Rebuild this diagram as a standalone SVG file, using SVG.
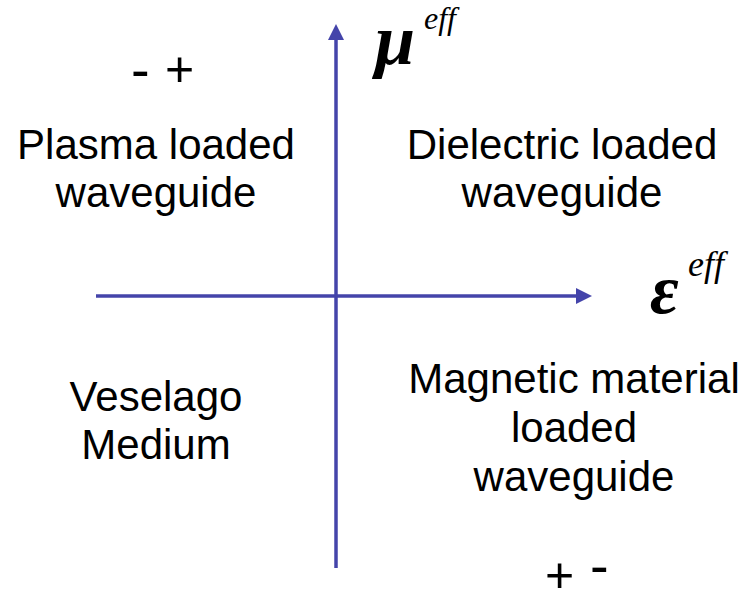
<svg xmlns="http://www.w3.org/2000/svg" width="747" height="590" viewBox="0 0 747 590">
<style>
.lbl{font-family:"Liberation Sans",Arial,sans-serif;font-size:42px;fill:#000;text-anchor:middle}
.sym{font-family:"Liberation Serif","Times New Roman",serif;font-style:italic;font-weight:bold;fill:#000}
.sup{font-family:"Liberation Serif","Times New Roman",serif;font-style:italic;fill:#000}
.sign{font-family:"Liberation Sans",Arial,sans-serif;fill:#000}
.axis{stroke:#4444AA;stroke-width:3.5;fill:none}
</style>
<defs>
<marker id="ah" markerUnits="userSpaceOnUse" markerWidth="16" markerHeight="16" refX="0" refY="8" orient="auto" viewBox="0 0 16 16">
<path d="M0,0 L16,8 L0,16 Z" fill="#4444AA"/>
</marker>
</defs>
<g id="connectors">
<line class="axis" x1="96" y1="296" x2="576" y2="296" marker-end="url(#ah)"/>
<line class="axis" x1="336" y1="568" x2="336" y2="40" marker-end="url(#ah)"/>
</g>
<g id="mu-label">
<text class="sym" x="375" y="64" font-size="72">μ</text>
<text class="sup" x="424" y="29" font-size="32">eff</text>
</g>
<g id="eps-label">
<text class="sym" x="650" y="313" font-size="70">ε</text>
<text class="sup" x="688" y="276" font-size="36">eff</text>
</g>
<g id="signs-top">
<text class="sign" x="131" y="89" font-size="56">-</text>
<text class="sign" x="165" y="86" font-size="50">+</text>
</g>
<g id="signs-bottom">
<text class="sign" x="545" y="592" font-size="50">+</text>
<text class="sign" x="590" y="585" font-size="56">-</text>
</g>
<g id="q2">
<text class="lbl" x="156" y="159">Plasma loaded</text>
<text class="lbl" x="156" y="207">waveguide</text>
</g>
<g id="q1">
<text class="lbl" x="562" y="159">Dielectric loaded</text>
<text class="lbl" x="562" y="207">waveguide</text>
</g>
<g id="q3">
<text class="lbl" x="156" y="411">Veselago</text>
<text class="lbl" x="156" y="459">Medium</text>
</g>
<g id="q4">
<text class="lbl" x="574" y="393">Magnetic material</text>
<text class="lbl" x="574" y="442">loaded</text>
<text class="lbl" x="574" y="491">waveguide</text>
</g>
</svg>
